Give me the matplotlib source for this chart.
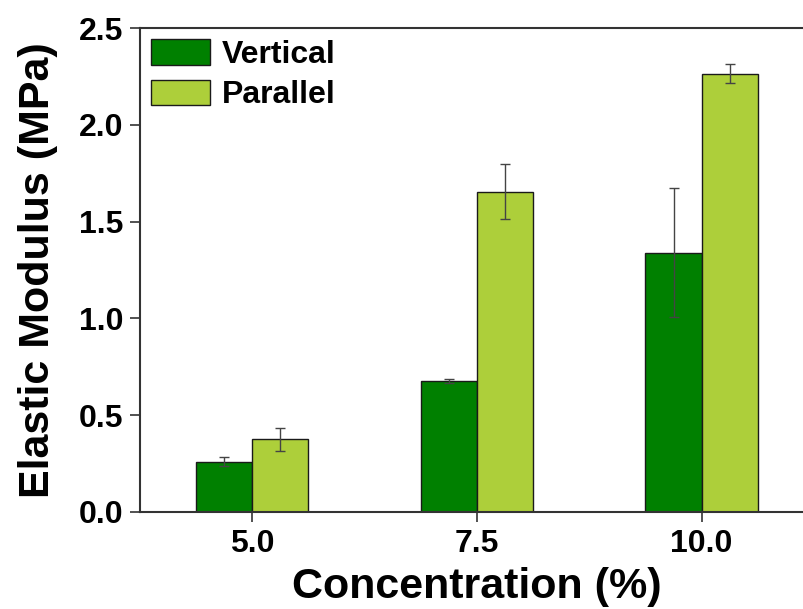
import matplotlib
matplotlib.use('Agg')
import matplotlib.pyplot as plt
import numpy as np

# values
concentrations = ['5.0', '7.5', '10.0']
vertical = [0.26, 0.675, 1.34]
vertical_err = [0.025, 0.01, 0.335]
parallel = [0.375, 1.655, 2.265]
parallel_err = [0.06, 0.142, 0.05]

plt.rcParams['font.family'] = ['Liberation Sans', 'DejaVu Sans']
plt.rcParams['font.weight'] = 'bold'

fig = plt.figure(figsize=(8.04, 6.09), dpi=100)
ax = fig.add_axes([0.1741, 0.1593, 0.8383, 0.7947])

x = np.arange(len(concentrations))
w = 0.25
err_kw = dict(ecolor='#444444', elinewidth=1.0, capsize=3.5, capthick=1.0)
ax.bar(x - w / 2, vertical, w, yerr=vertical_err, color='#008000',
       edgecolor='#1a1a1a', linewidth=1.0, label='Vertical', error_kw=err_kw)
ax.bar(x + w / 2, parallel, w, yerr=parallel_err, color='#ADCF3A',
       edgecolor='#1a1a1a', linewidth=1.0, label='Parallel', error_kw=err_kw)

ax.set_xlim(-0.5, 2.5)
ax.set_ylim(0, 2.5)
ax.set_xticks(x)
ax.set_xticklabels(concentrations)
ax.set_yticks(np.arange(0, 2.51, 0.5))
ax.set_yticklabels([f'{v:.1f}' for v in np.arange(0, 2.51, 0.5)])

ax.tick_params(axis='both', direction='out', length=7, width=1.2,
               labelsize=23, pad=5, color='#333333')
ax.tick_params(axis='x', top=False)
ax.tick_params(axis='y', right=False)
for lbl in ax.get_xticklabels() + ax.get_yticklabels():
    lbl.set_fontweight('bold')

for side in ['left', 'bottom', 'top']:
    ax.spines[side].set_linewidth(1.5)
    ax.spines[side].set_color('#333333')
ax.spines['right'].set_visible(False)

ax.set_xlabel('Concentration (%)', fontsize=31, fontweight='bold', labelpad=6)
ax.set_ylabel('Elastic Modulus (MPa)', fontsize=31, fontweight='bold', labelpad=15)

leg = ax.legend(loc='upper left', frameon=False, fontsize=23,
                handlelength=1.85, handleheight=0.85, handletextpad=0.35,
                labelspacing=0.3, borderaxespad=0.2, borderpad=0.15)
for t in leg.get_texts():
    t.set_fontweight('bold')

plt.savefig('out.png', dpi=100)
plt.close()
